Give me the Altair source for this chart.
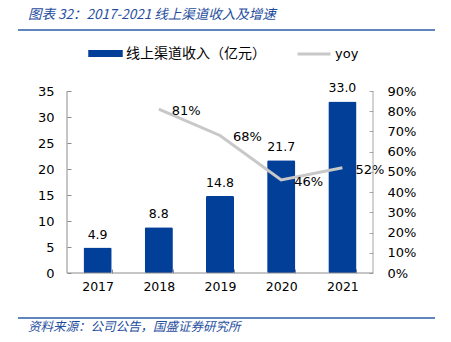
import altair as alt
import pandas as pd

# ---- data ----
years = ["2017", "2018", "2019", "2020", "2021"]
revenue = [4.9, 8.8, 14.8, 21.7, 33.0]
yoy_years = ["2018", "2019", "2020", "2021"]
yoy = [0.81, 0.68, 0.46, 0.52]
left_ticks = [0, 5, 10, 15, 20, 25, 30, 35]
right_ticks = [0, 0.1, 0.2, 0.3, 0.4, 0.5, 0.6, 0.7, 0.8, 0.9]

bar_name = "线上渠道收入（亿元）"
line_name = "yoy"
title_text = "图表 32：2017-2021 线上渠道收入及增速"
source_text = "资料来源：公司公告，国盛证券研究所"

# ---- style ----
W, H = 306, 182
NUM_FONT = "DejaVu Sans"
CJK_FONT = "Noto Sans CJK SC"
BAR_BLUE = "#023F98"
TITLE_BLUE = "#1F4E9E"
RULE_BLUE = "#2B5CAA"
LINE_GRAY = "#C8C8C8"
AXIS_GRAY = "#8C8C8C"
RIGHT_AXIS_GRAY = "#A6A6A6"

bars_df = pd.DataFrame({"year": years, "revenue": revenue, "series": bar_name})
line_df = pd.DataFrame({"year": yoy_years, "yoy": yoy, "series": line_name})
one = pd.DataFrame({"k": [0]})

x_enc = alt.X(
    "year:N",
    sort=years,
    scale=alt.Scale(domain=years, paddingInner=0.54, paddingOuter=0.27),
    axis=alt.Axis(
        title=None, labelAngle=0, domain=False, tickBand="extent",
        tickSize=4, offset=-4, tickColor=AXIS_GRAY, labelPadding=7,
        labelFont=NUM_FONT, labelFontSize=12.5, labelColor="#000",
    ),
)

y_left = alt.Y(
    "revenue:Q",
    scale=alt.Scale(domain=[0, 35], nice=False, zero=True),
    axis=alt.Axis(
        values=left_ticks, title=None, orient="left", domain=False, grid=False,
        offset=-4, tickSize=4, tickColor=AXIS_GRAY, labelPadding=13,
        labelFont=NUM_FONT, labelFontSize=13, labelColor="#000",
    ),
)

y_right = alt.Y(
    "yoy:Q",
    scale=alt.Scale(domain=[0, 0.9], nice=False, zero=True),
    axis=alt.Axis(
        values=right_ticks, format=".0%", title=None, orient="right", domain=False,
        grid=False, offset=-4, tickSize=4, tickColor=RIGHT_AXIS_GRAY, labelPadding=14,
        labelFont=NUM_FONT, labelFontSize=13, labelColor="#000",
    ),
)

bars = alt.Chart(bars_df).mark_bar(cornerRadius=1.5).encode(
    x=x_enc,
    y=y_left,
    color=alt.Color(
        "series:N",
        scale=alt.Scale(domain=[bar_name], range=[BAR_BLUE]),
        legend=alt.Legend(
            orient="none", legendX=21, legendY=-55, title=None,
            symbolType="M-1,-0.2L1,-0.2L1,0.2L-1,0.2Z", symbolSize=1190,
            symbolStrokeWidth=0, symbolOpacity=1, labelFont=CJK_FONT,
            labelFontSize=14, labelOffset=3, labelLimit=400, padding=0,
            labelColor="#000",
        ),
    ),
)

bar_text = alt.Chart(bars_df).mark_text(
    baseline="alphabetic", dy=-9, font=NUM_FONT, fontSize=12.5, color="#000"
).encode(x=x_enc, y=y_left, text=alt.Text("revenue:Q", format=".1f"))

line = alt.Chart(line_df).mark_line(strokeWidth=3).encode(
    x=x_enc,
    y=y_right,
    stroke=alt.Stroke(
        "series:N",
        scale=alt.Scale(domain=[line_name], range=[LINE_GRAY]),
        legend=alt.Legend(
            orient="none", legendX=229, legendY=-55, title=None,
            symbolType="stroke", symbolSize=1089, symbolStrokeWidth=3,
            labelFont=NUM_FONT, labelFontSize=13, labelOffset=3, padding=0,
            labelColor="#000",
        ),
    ),
)

line_text = alt.Chart(line_df).mark_text(
    align="left", baseline="middle", dx=13, dy=2, font=NUM_FONT, fontSize=13, color="#000"
).encode(x=x_enc, y=y_right, text=alt.Text("yoy:Q", format=".0%"))

left_layer = alt.layer(bars, bar_text)
right_layer = alt.layer(line, line_text)

title_mark = alt.Chart(one).mark_text(
    align="left", baseline="middle", font=CJK_FONT, fontSize=13.5,
    fontStyle="italic", color=TITLE_BLUE,
).encode(x=alt.value(-39), y=alt.value(-76), text=alt.value(title_text))

title_rule = alt.Chart(one).mark_rule(color=RULE_BLUE, strokeWidth=1.5).encode(
    x=alt.value(-49), x2=alt.value(368), y=alt.value(-61)
)

source_mark = alt.Chart(one).mark_text(
    align="left", baseline="middle", font=CJK_FONT, fontSize=12.5,
    fontStyle="italic", color=TITLE_BLUE,
).encode(x=alt.value(-39), y=alt.value(236), text=alt.value(source_text))

source_rule = alt.Chart(one).mark_rule(color=RULE_BLUE, strokeWidth=1.5).encode(
    x=alt.value(-49), x2=alt.value(368), y=alt.value(227)
)

left_domain = alt.Chart(one).mark_rule(color=AXIS_GRAY, strokeWidth=1).encode(
    x=alt.value(0), y=alt.value(0), y2=alt.value(H)
)
right_domain = alt.Chart(one).mark_rule(color=RIGHT_AXIS_GRAY, strokeWidth=1).encode(
    x=alt.value(W), y=alt.value(0), y2=alt.value(H)
)
bottom_domain = alt.Chart(one).mark_rule(color=AXIS_GRAY, strokeWidth=1).encode(
    x=alt.value(0), x2=alt.value(W), y=alt.value(H)
)

chart = alt.layer(
    left_layer, right_layer,
    left_domain, right_domain, bottom_domain,
    title_mark, title_rule, source_mark, source_rule,
).resolve_scale(
    y="independent"
).properties(
    width=W, height=H,
    autosize=alt.AutoSizeParams(type="none"),
    padding={"left": 67, "top": 91, "right": 78, "bottom": 69},
    background="white",
).configure_view(stroke=None)

chart.save("out.html", embed_options={"renderer": "svg", "actions": False})
